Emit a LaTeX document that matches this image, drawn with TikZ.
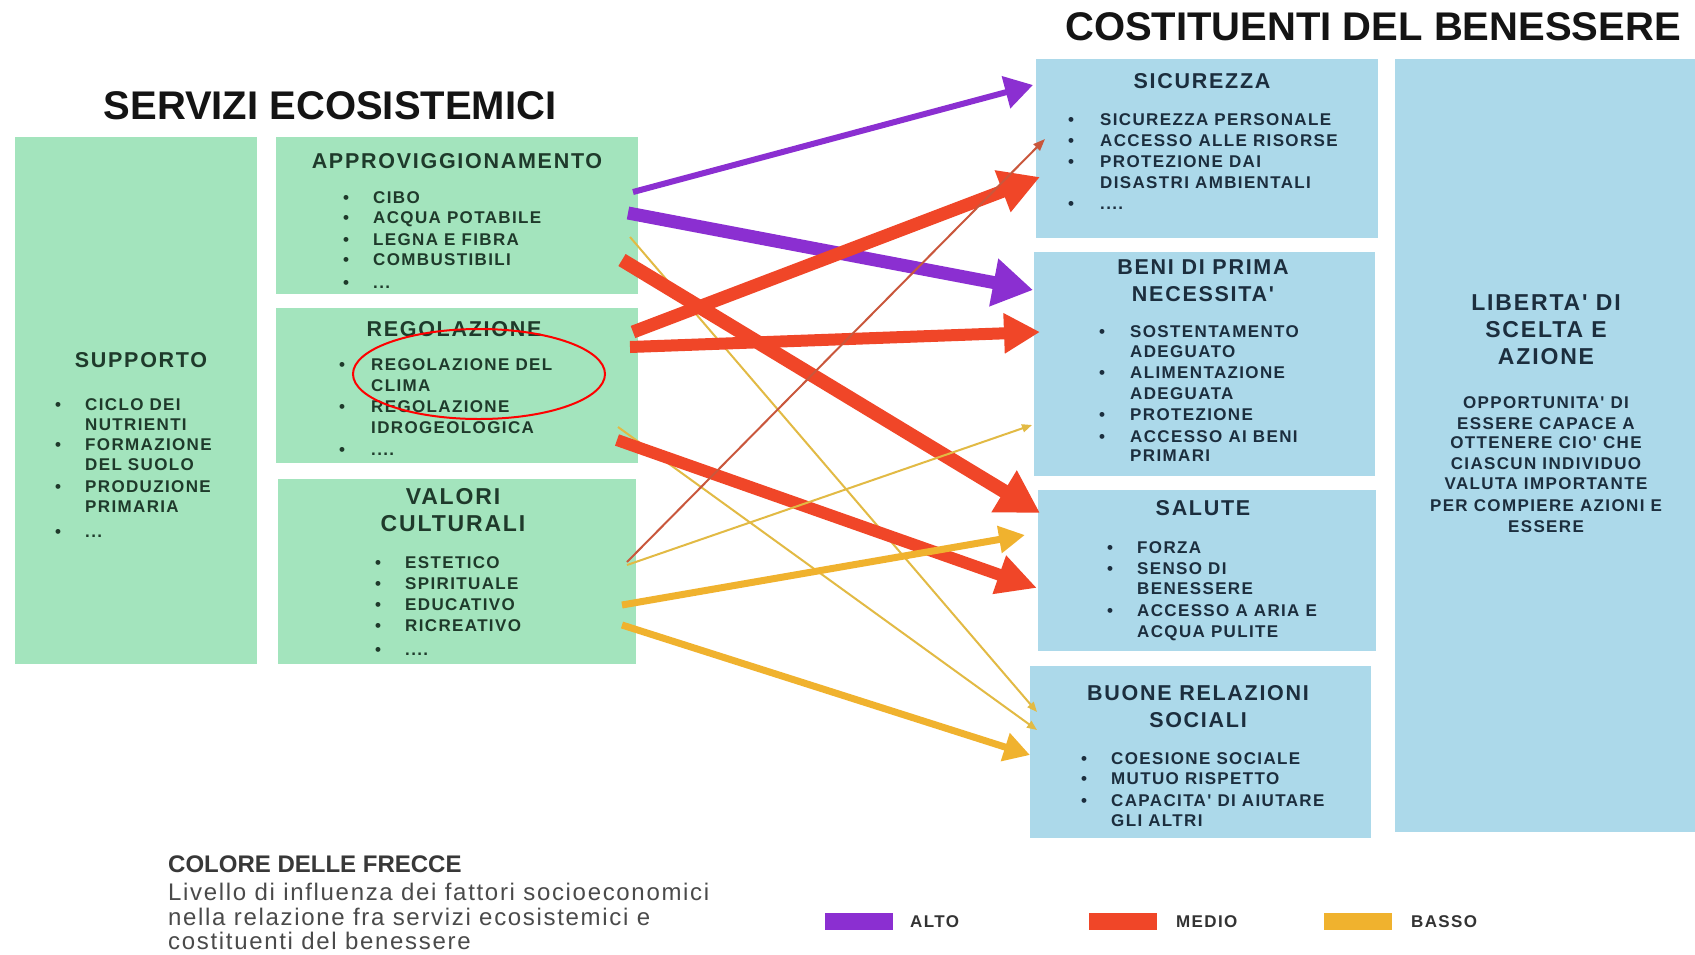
\documentclass[tikz,border=0pt]{standalone}
\usepackage{fontspec}
\setmainfont{Liberation Sans}
\newfontfamily\spc[LetterSpace=8]{Liberation Sans}
\newfontfamily\lgf[LetterSpace=7]{Liberation Sans}
\usetikzlibrary{arrows.meta,shapes.geometric}
\definecolor{gfill}{HTML}{A3E4BD}
\definecolor{bfill}{HTML}{ACD9EA}
\definecolor{gtxt}{HTML}{1F3A2B}
\definecolor{btxt}{HTML}{1C2E3E}
\definecolor{cpur}{HTML}{8B2FD1}
\definecolor{cred}{HTML}{F04628}
\definecolor{cyel}{HTML}{F0B22E}
\definecolor{cyelthin}{HTML}{E2BA44}
\definecolor{credthin}{HTML}{C9573C}
\definecolor{legtxt}{HTML}{4A4A4A}
\newcounter{tn}
\tikzset{
  gbox/.style={fill=gfill, draw=none, anchor=north west, inner sep=0pt},
  bbox/.style={fill=bfill, draw=none, anchor=north west, inner sep=0pt},
  ttl/.style={font=\bfseries\fontsize{40}{44}\selectfont, text=black!92, inner sep=0pt, text height=28.6pt, text depth=0pt},
  hdr/.style={font=\spc\bfseries\fontsize{21.5}{25}\selectfont, inner sep=0pt, anchor=center, text height=15.4pt, text depth=0pt},
  hdrL/.style={font=\spc\bfseries\fontsize{23}{27}\selectfont, inner sep=0pt, anchor=center, text height=16.5pt, text depth=0pt},
  itm/.style={font=\spc\bfseries\fontsize{17}{20}\selectfont, inner sep=0pt, anchor=west, text height=12.2pt, text depth=0pt},
  itmc/.style={itm, anchor=center},
  swatch/.style={minimum width=68pt, minimum height=17pt, inner sep=0pt, anchor=north west},
  leglab/.style={font=\spc\bfseries\fontsize{17}{20}\selectfont, text=black!80, inner sep=0pt, anchor=west, text height=12.2pt, text depth=0pt},
  legbody/.style={font=\lgf\fontsize{24}{26}\selectfont, text=legtxt, inner sep=0pt, anchor=base west},
}
\newcommand{\myhead}[5][hdr]{\stepcounter{tn}\node[#1,text=#2] (n\arabic{tn}) at (#3,#4) {#5};}
\newcommand{\myitem}[5]{\stepcounter{tn}\node[itm,text=#1] (n\arabic{tn}) at (#2,#4) {\textbullet};%
  \stepcounter{tn}\node[itm,text=#1] (n\arabic{tn}) at (#3,#4) {#5};}
\newcommand{\mycont}[4]{\stepcounter{tn}\node[itm,text=#1] (n\arabic{tn}) at (#2,#3) {#4};}
\newcommand{\mycent}[4]{\stepcounter{tn}\node[itmc,text=#1] (n\arabic{tn}) at (#2,#3) {#4};}
\begin{document}
\begin{tikzpicture}[x=1pt,y=-1pt]
\useasboundingbox (0,0) rectangle (1695,954);
\fill[white] (0,0) rectangle (1695,954);

% titles
\node[ttl] (t1) at (330,105) {SERVIZI ECOSISTEMICI};
\node[ttl] (t2) at (1373,26) {COSTITUENTI DEL BENESSERE};

% left boxes
\node[gbox, minimum width=242pt, minimum height=527pt] (supp) at (15,137) {};
\node[gbox, minimum width=362pt, minimum height=157pt] (appr) at (276,137) {};
\node[gbox, minimum width=362pt, minimum height=155pt] (rego) at (276,308) {};
\node[gbox, minimum width=358pt, minimum height=185pt] (valo) at (278,479) {};
% right boxes
\node[bbox, minimum width=342pt, minimum height=179pt] (sicu) at (1036,59) {};
\node[bbox, minimum width=341pt, minimum height=224pt] (beni) at (1034,252) {};
\node[bbox, minimum width=338pt, minimum height=161pt] (salu) at (1038,490) {};
\node[bbox, minimum width=341pt, minimum height=172pt] (buon) at (1030,666) {};
\node[bbox, minimum width=300pt, minimum height=773pt] (libe) at (1395,59) {};

% SUPPORTO
\myhead{gtxt}{141}{360}{SUPPORTO}
\myitem{gtxt}{55}{85}{404}{CICLO DEI}
\mycont{gtxt}{85}{424}{NUTRIENTI}
\myitem{gtxt}{55}{85}{444}{FORMAZIONE}
\mycont{gtxt}{85}{464}{DEL SUOLO}
\myitem{gtxt}{55}{85}{486}{PRODUZIONE}
\mycont{gtxt}{85}{506}{PRIMARIA}
\myitem{gtxt}{55}{85}{531}{...}

% APPROVIGGIONAMENTO
\myhead{gtxt}{457}{161}{APPROVIGGIONAMENTO}
\myitem{gtxt}{343}{373}{197}{CIBO}
\myitem{gtxt}{343}{373}{217}{ACQUA POTABILE}
\myitem{gtxt}{343}{373}{239}{LEGNA E FIBRA}
\myitem{gtxt}{343}{373}{259}{COMBUSTIBILI}
\myitem{gtxt}{343}{373}{282}{...}

% REGOLAZIONE
\myhead{gtxt}{454}{329}{REGOLAZIONE}
\myitem{gtxt}{339}{371}{364}{REGOLAZIONE DEL}
\mycont{gtxt}{371}{385}{CLIMA}
\myitem{gtxt}{339}{371}{406}{REGOLAZIONE}
\mycont{gtxt}{371}{427}{IDROGEOLOGICA}
\myitem{gtxt}{339}{371}{449}{....}

% VALORI CULTURALI
\myhead[hdrL]{gtxt}{453}{496}{VALORI}
\myhead[hdrL]{gtxt}{453}{523}{CULTURALI}
\myitem{gtxt}{375}{405}{562}{ESTETICO}
\myitem{gtxt}{375}{405}{583}{SPIRITUALE}
\myitem{gtxt}{375}{405}{604}{EDUCATIVO}
\myitem{gtxt}{375}{405}{625}{RICREATIVO}
\myitem{gtxt}{375}{405}{649}{....}

% SICUREZZA
\myhead{btxt}{1202}{81}{SICUREZZA}
\myitem{btxt}{1068}{1100}{119}{SICUREZZA PERSONALE}
\myitem{btxt}{1068}{1100}{140}{ACCESSO ALLE RISORSE}
\myitem{btxt}{1068}{1100}{161}{PROTEZIONE DAI}
\mycont{btxt}{1100}{182}{DISASTRI AMBIENTALI}
\myitem{btxt}{1068}{1100}{203}{....}

% BENI DI PRIMA NECESSITA'
\myhead{btxt}{1203}{267}{BENI DI PRIMA}
\myhead{btxt}{1203}{294}{NECESSITA'}
\myitem{btxt}{1099}{1130}{331}{SOSTENTAMENTO}
\mycont{btxt}{1130}{351}{ADEGUATO}
\myitem{btxt}{1099}{1130}{372}{ALIMENTAZIONE}
\mycont{btxt}{1130}{393}{ADEGUATA}
\myitem{btxt}{1099}{1130}{414}{PROTEZIONE}
\myitem{btxt}{1099}{1130}{436}{ACCESSO AI BENI}
\mycont{btxt}{1130}{455}{PRIMARI}

% SALUTE
\myhead{btxt}{1203}{508}{SALUTE}
\myitem{btxt}{1107}{1137}{547}{FORZA}
\myitem{btxt}{1107}{1137}{568}{SENSO DI}
\mycont{btxt}{1137}{588}{BENESSERE}
\myitem{btxt}{1107}{1137}{610}{ACCESSO A ARIA E}
\mycont{btxt}{1137}{631}{ACQUA PULITE}

% BUONE RELAZIONI SOCIALI
\myhead{btxt}{1198}{693}{BUONE RELAZIONI}
\myhead{btxt}{1198}{720}{SOCIALI}
\myitem{btxt}{1081}{1111}{758}{COESIONE SOCIALE}
\myitem{btxt}{1081}{1111}{778}{MUTUO RISPETTO}
\myitem{btxt}{1081}{1111}{800}{CAPACITA' DI AIUTARE}
\mycont{btxt}{1111}{820}{GLI ALTRI}

% LIBERTA'
\myhead[hdrL]{btxt}{1546}{302}{LIBERTA' DI}
\myhead[hdrL]{btxt}{1546}{329}{SCELTA E}
\myhead[hdrL]{btxt}{1546}{356}{AZIONE}
\mycent{btxt}{1546}{402}{OPPORTUNITA' DI}
\mycent{btxt}{1546}{423}{ESSERE CAPACE A}
\mycent{btxt}{1546}{442}{OTTENERE CIO' CHE}
\mycent{btxt}{1546}{463}{CIASCUN INDIVIDUO}
\mycent{btxt}{1546}{483}{VALUTA IMPORTANTE}
\mycent{btxt}{1546}{505}{PER COMPIERE AZIONI E}
\mycent{btxt}{1546}{526}{ESSERE}

% red marker ellipse
\node[ellipse, draw=red, line width=2pt, minimum width=252pt, minimum height=90pt, inner sep=0pt] (mk) at (479,374) {};

% arrow end points
\coordinate (a1s) at (633,192);  \coordinate (a1e) at (1033,85);
\coordinate (a2s) at (628,213);  \coordinate (a2e) at (1033,290);
\coordinate (r1s) at (633,332);  \coordinate (r1e) at (1040,177);
\coordinate (r2s) at (630,347);  \coordinate (r2e) at (1040,332);
\coordinate (r3s) at (622,260);  \coordinate (r3e) at (1040,513);
\coordinate (r4s) at (617,440);  \coordinate (r4e) at (1037,588);
\coordinate (r5s) at (627,562);  \coordinate (r5e) at (1045,139);
\coordinate (y1s) at (630,237);  \coordinate (y1e) at (1037,712);
\coordinate (y2s) at (618,427);  \coordinate (y2e) at (1037,730);
\coordinate (y3s) at (627,565);  \coordinate (y3e) at (1032,425);
\coordinate (y4s) at (622,605);  \coordinate (y4e) at (1025,535);
\coordinate (y5s) at (622,625);  \coordinate (y5e) at (1030,755);

% arrows
\draw[cyelthin, line width=2pt, -{Triangle[length=10pt,width=8pt]}] (y1s) -- (y1e);
\draw[cyelthin, line width=2pt, -{Triangle[length=10pt,width=8pt]}] (y2s) -- (y2e);
\draw[cred, line width=14pt, -{Triangle[length=42pt,width=46pt]}] (r3s) -- (r3e);
\draw[cred, line width=12pt, -{Triangle[length=40pt,width=38pt]}] (r4s) -- (r4e);
\draw[cpur, line width=13pt, -{Triangle[length=40pt,width=46pt]}] (a2s) -- (a2e);
\draw[cred, line width=13pt, -{Triangle[length=40pt,width=42pt]}] (r1s) -- (r1e);
\draw[cred, line width=12pt, -{Triangle[length=36pt,width=38pt]}] (r2s) -- (r2e);
\draw[cpur, line width=6pt, -{Triangle[length=28pt,width=32pt]}] (a1s) -- (a1e);
\draw[credthin, line width=2pt, -{Triangle[length=12pt,width=9pt]}] (r5s) -- (r5e);
\draw[cyelthin, line width=2pt, -{Triangle[length=10pt,width=8pt]}] (y3s) -- (y3e);
\draw[cyel, line width=7pt, -{Triangle[length=26pt,width=26pt]}] (y4s) -- (y4e);
\draw[cyel, line width=7pt, -{Triangle[length=26pt,width=28pt]}] (y5s) -- (y5e);

% legend
\node[font=\bfseries\fontsize{24}{28}\selectfont, text=black!78, inner sep=0pt, anchor=base west] (lg1) at (168,872) {COLORE DELLE FRECCE};
\node[legbody] (lg2) at (168,900) {Livello di influenza dei fattori socioeconomici};
\node[legbody] (lg3) at (168,925) {nella relazione fra servizi ecosistemici e};
\node[legbody] (lg4) at (168,949) {costituenti del benessere};
\node[swatch, fill=cpur] (sw1) at (825,913) {};
\node[swatch, fill=cred] (sw2) at (1089,913) {};
\node[swatch, fill=cyel] (sw3) at (1324,913) {};
\node[leglab] (lb1) at (910,921) {ALTO};
\node[leglab] (lb2) at (1176,921) {MEDIO};
\node[leglab] (lb3) at (1411,921) {BASSO};
\end{tikzpicture}
\end{document}
